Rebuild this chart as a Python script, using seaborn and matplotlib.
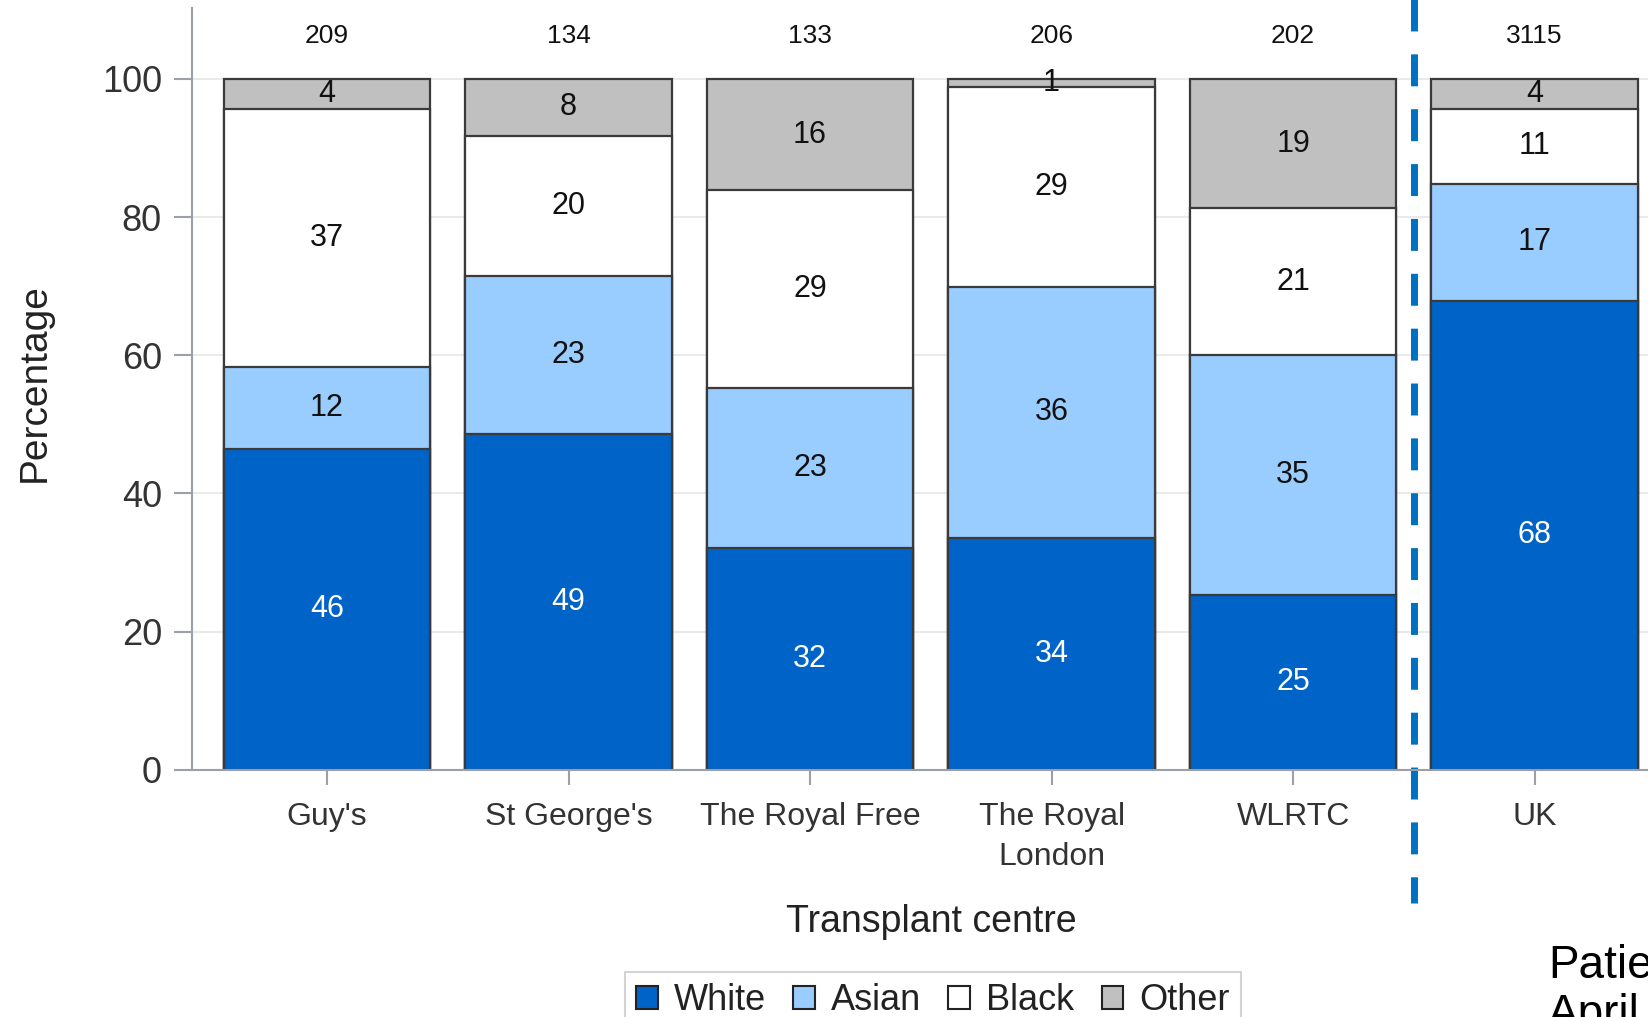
import numpy as np
import pandas as pd
import matplotlib
matplotlib.use("Agg")
import matplotlib.pyplot as plt
import seaborn as sns
from matplotlib.patches import Patch

sns.set_theme(style="white")
plt.rcParams['font.family'] = ['Liberation Sans', 'DejaVu Sans']

# data (percent of patients by ethnicity)
centres = ["Guy's", "St George's", "The Royal Free", "The Royal\nLondon", "WLRTC", "UK"]
n_patients = [209, 134, 133, 206, 202, 3115]
white = [46.4, 48.6, 32.1, 33.6, 25.3, 67.9]
asian = [11.9, 22.9, 23.2, 36.3, 34.7, 16.9]
black = [37.3, 20.3, 28.6, 29.0, 21.3, 10.9]
other = [4.4, 8.2, 16.1, 1.1, 18.7, 4.3]

groups = ["White", "Asian", "Black", "Other"]
colours = ["#0063C8", "#99CCFF", "#FFFFFF", "#C0C0C0"]
text_colours = ["white", "#111111", "#111111", "#111111"]

values = np.array([white, asian, black, other])
tops = values.cumsum(axis=0)
bottoms = tops - values

df = pd.DataFrame({
    "centre": np.tile(centres, len(groups)),
    "group": np.repeat(groups, len(centres)),
    "top": tops.ravel(),
})

fig = plt.figure(figsize=(16.49, 10.17), dpi=100)
ax = fig.add_axes([192.5 / 1649, 0.2431, 1462.9 / 1649, 0.7486])

# draw cumulative bars from the top group down, so each layer sits on the next
for g, c in reversed(list(zip(groups, colours))):
    sns.barplot(data=df[df["group"] == g], x="centre", y="top", order=centres,
                color=c, saturation=1, width=0.855, errorbar=None,
                edgecolor="#3A3A3A", linewidth=1.6, ax=ax)

for k in range(len(groups)):
    for i in range(len(centres)):
        ax.text(i, bottoms[k, i] + values[k, i] / 2, f"{values[k, i]:.0f}",
                ha="center", va="center", fontsize=22, color=text_colours[k])

for i, n in enumerate(n_patients):
    ax.text(i, 106.2, str(n), ha="center", va="center", fontsize=19, color="#111111")

ax.set_xlim(-0.557, 5.5)
ax.set_ylim(0, 110.2)
ax.set_yticks([0, 20, 40, 60, 80, 100])
ax.yaxis.grid(True, color="#EAEAEA", linewidth=1.5)
ax.set_axisbelow(True)

for s in ["top", "right"]:
    ax.spines[s].set_visible(False)
for s in ["left", "bottom"]:
    ax.spines[s].set_color("#9AA0A6")
    ax.spines[s].set_linewidth(1.5)

ax.tick_params(axis="y", left=True, length=13, width=1.5, color="#9AA0A6",
               pad=9, labelsize=26, labelcolor="#333333")
ax.tick_params(axis="x", bottom=True, length=11, width=1.5, color="#9AA0A6",
               pad=12.5, labelsize=23, labelcolor="#333333")
for lab in ax.get_xticklabels():
    lab.set_linespacing(1.4)

ax.set_xlabel("Transplant centre", fontsize=27, color="#222222")
ax.xaxis.label.set_va("baseline")
ax.xaxis.set_label_coords(0.5048, -0.213)
ax.set_ylabel("Percentage", fontsize=28, color="#222222")
ax.yaxis.label.set_va("center")
ax.yaxis.set_label_coords(-0.1077, 0.508)

# separator between the centres and the UK total
ax.plot([4.5, 4.5], [113.2, -19.3], color="#0070C0", linewidth=5,
        linestyle=(0, (4.6, 3.3)), dash_capstyle="butt", clip_on=False)

handles = [Patch(facecolor=c, edgecolor="#222222", linewidth=1.5) for c in colours]
leg = fig.legend(handles, groups, loc="upper center", ncol=4,
                 bbox_to_anchor=(933 / 1649, 1 - 972 / 1017), borderaxespad=0,
                 fontsize=26, frameon=True, fancybox=False,
                 handlelength=0.6, handleheight=0.6, handletextpad=0.45,
                 columnspacing=0.75, borderpad=0.3)
leg.get_frame().set_edgecolor("#C8C8C8")
leg.get_frame().set_linewidth(1.5)
for t in leg.get_texts():
    t.set_color("#222222")

fig.text(1548 / 1649, 1 - 944 / 1017, "Patients\nApril", ha="left", va="top",
         fontsize=33, color="black", linespacing=1.15)

fig.savefig("out.png", dpi=100)
